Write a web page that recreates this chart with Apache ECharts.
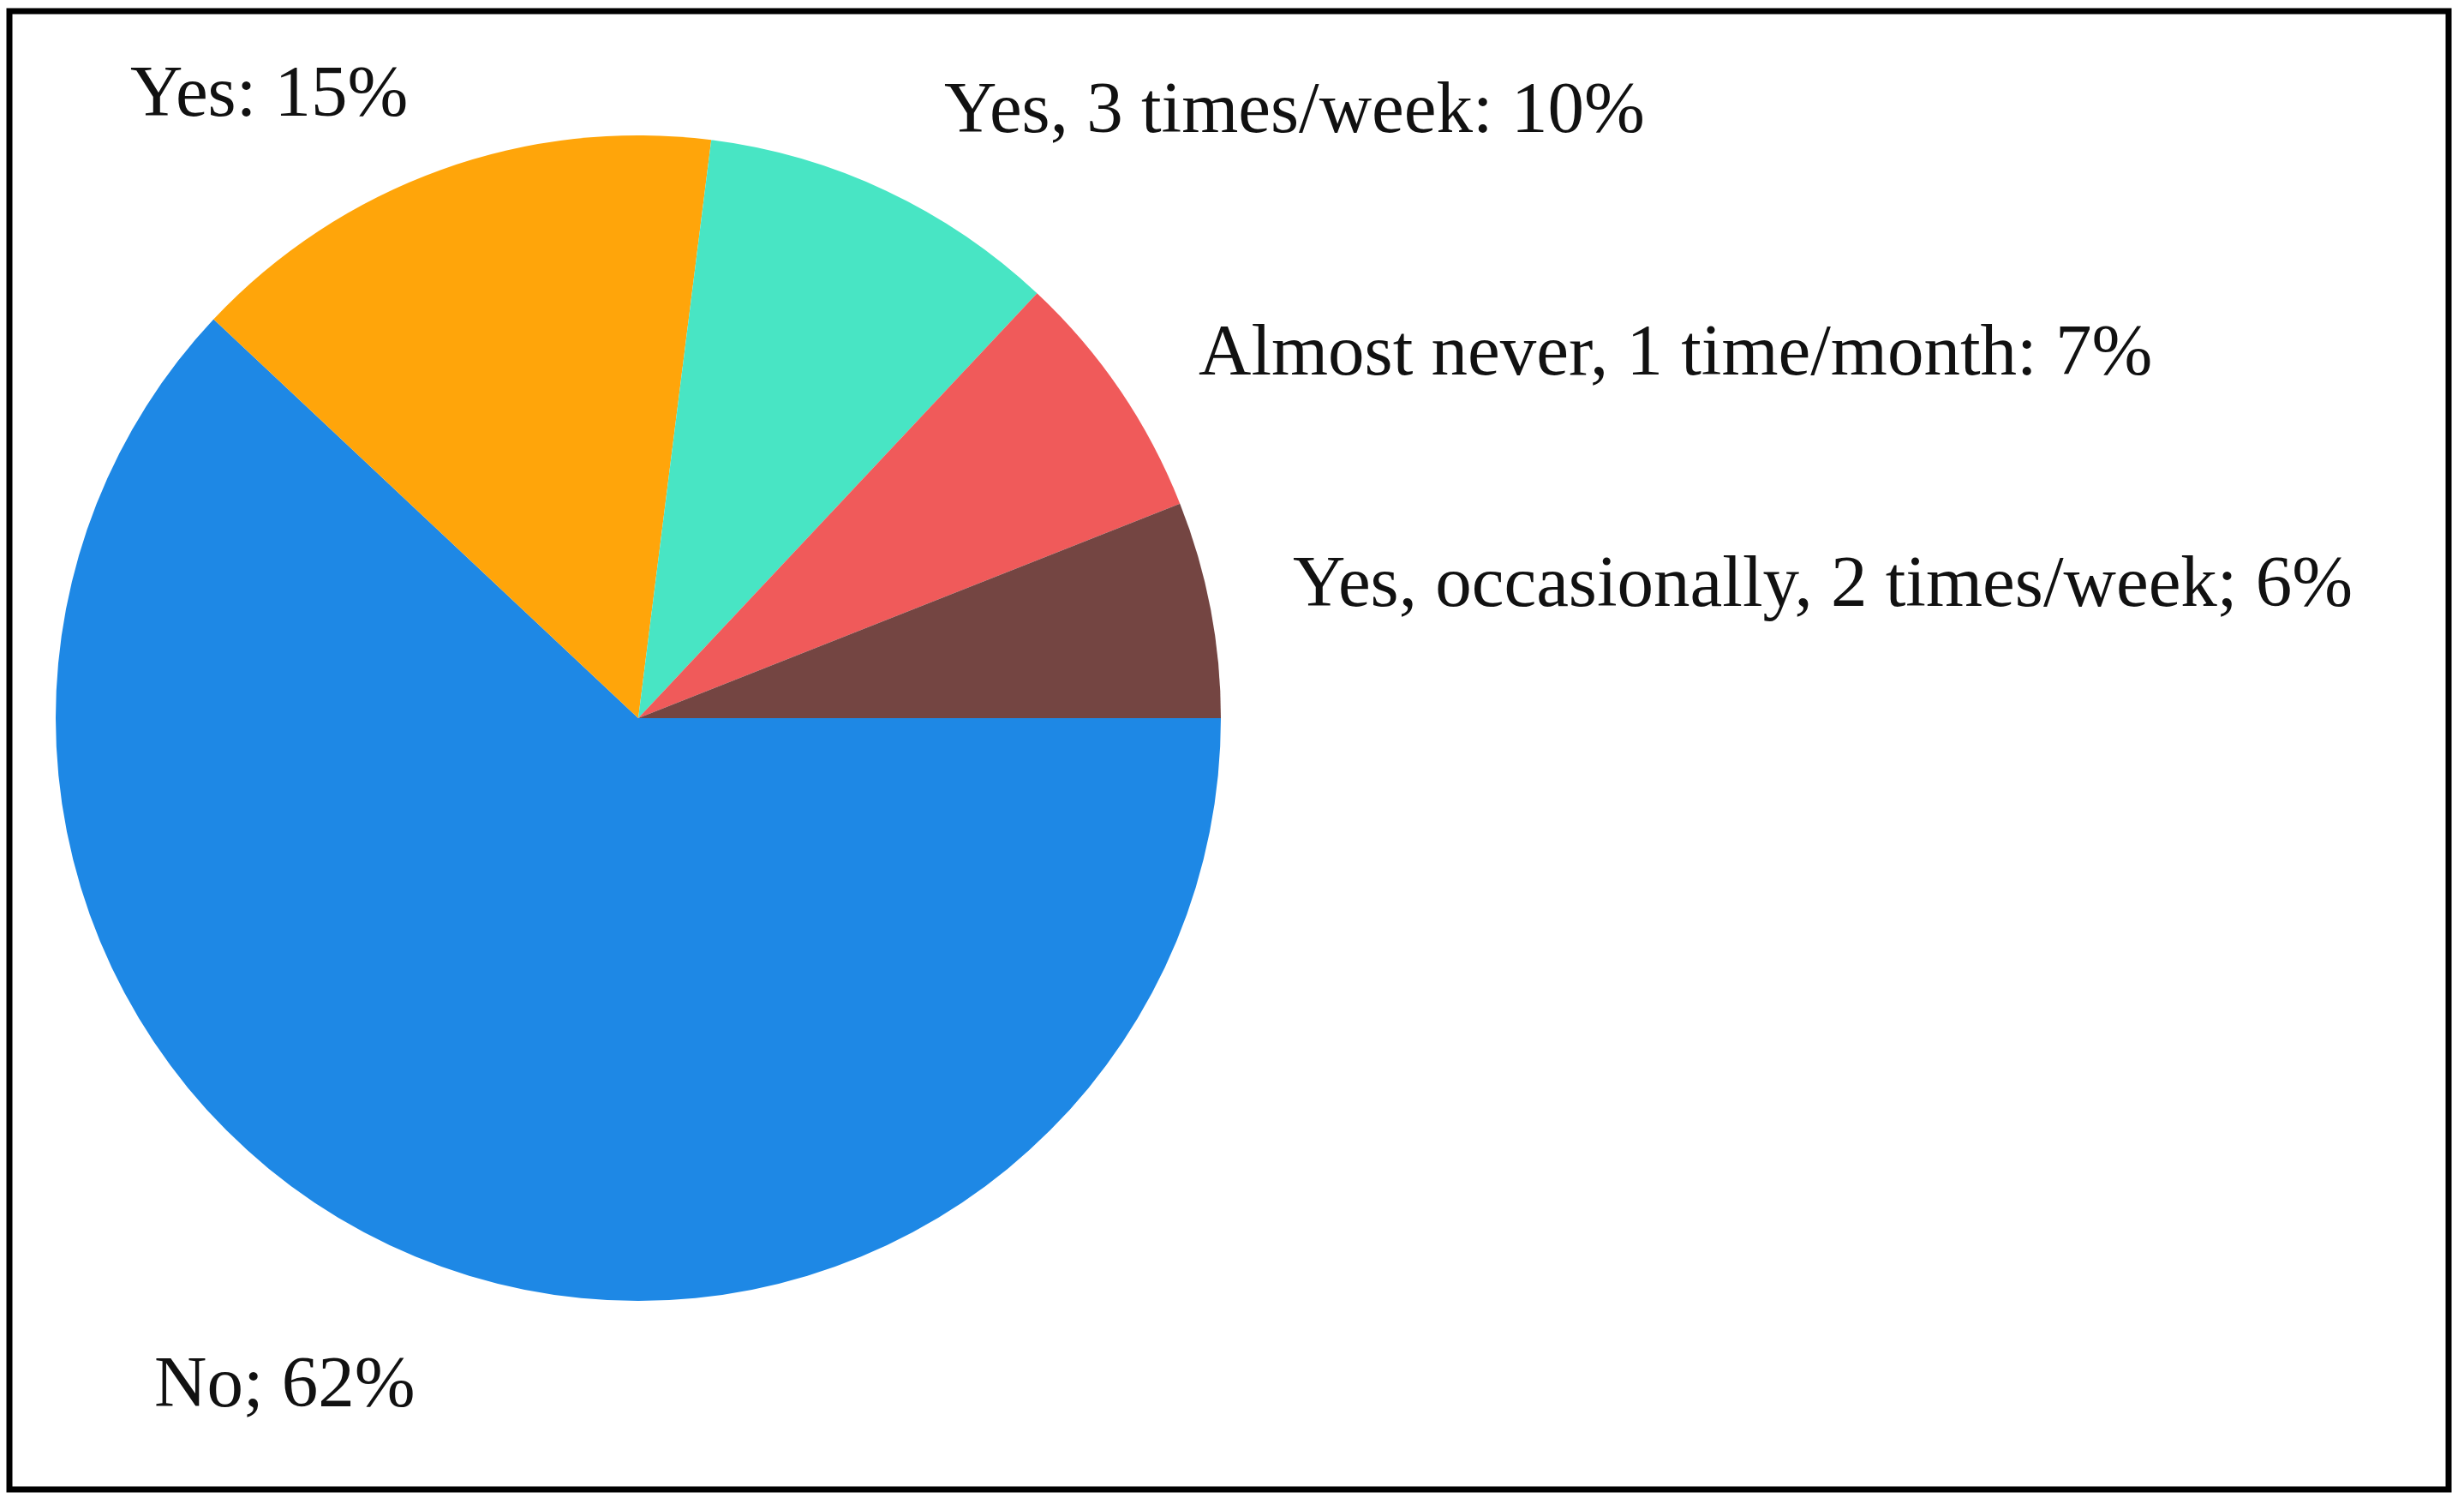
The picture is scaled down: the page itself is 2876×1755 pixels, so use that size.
<!DOCTYPE html>
<html>
<head>
<meta charset="utf-8">
<script src="https://cdn.jsdelivr.net/npm/echarts@6/dist/echarts.min.js"></script>
<style>
html,body{margin:0;padding:0;background:#fff;}
#chart{width:2876px;height:1755px;}
</style>
</head>
<body>
<div id="chart"></div>
<script>
// Data
var categories = ['No', 'Yes', 'Yes, 3 times/week', 'Almost never, 1 time/month', 'Yes, occasionally, 2 times/week'];
var values = [62, 15, 10, 7, 6];
var separators = ['; ', ': ', ': ', ': ', '; '];
var colors = ['#1E88E5', '#FFA50A', '#48E5C4', '#F05A5A', '#744542'];

// Label anchor positions (left x, vertical middle y) — layout only
var labelAnchors = [[180, 1619], [152, 113], [1102, 132], [1399, 415], [1509, 685]];

var chart = echarts.init(document.getElementById('chart'), null, {renderer: 'canvas'});

var pieData = categories.map(function (c, i) {
  return { name: c, value: values[i], itemStyle: { color: colors[i] } };
});

chart.setOption({
  backgroundColor: '#ffffff',
  animation: false,
  graphic: [{
    type: 'rect',
    shape: { x: 11, y: 13, width: 2847, height: 1725 },
    style: { fill: 'none', stroke: '#000', lineWidth: 7 },
    z: 10
  }],
  series: [{
    type: 'pie',
    center: [745, 838],
    radius: [0, 680],
    startAngle: 0,
    clockwise: true,
    data: pieData,
    itemStyle: { borderWidth: 0 },
    label: {
      show: true,
      position: 'outside',
      formatter: function (p) { return p.name + separators[p.dataIndex] + p.value + '%'; },
      fontFamily: 'Liberation Serif',
      fontSize: 85,
      color: '#111'
    },
    labelLine: { show: false },
    labelLayout: function (params) {
      var a = labelAnchors[params.dataIndex];
      return { x: a[0], y: a[1], align: 'left', verticalAlign: 'middle' };
    },
    emphasis: { disabled: true }
  }]
});
</script>
</body>
</html>
